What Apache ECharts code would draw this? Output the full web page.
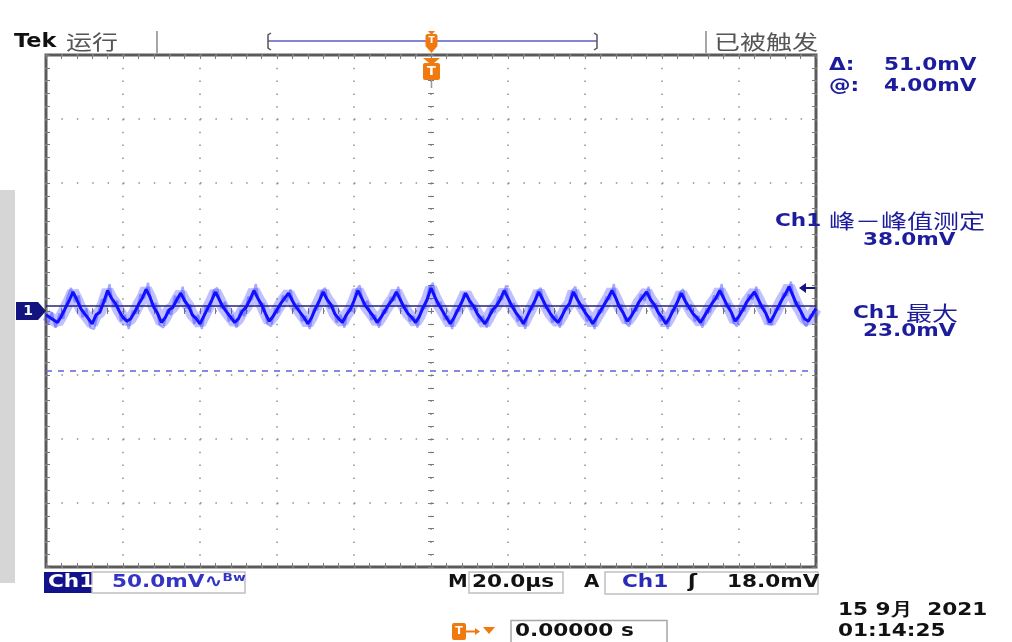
<!DOCTYPE html>
<html><head><meta charset="utf-8">
<script src="https://cdn.jsdelivr.net/npm/echarts@6/dist/echarts.min.js"></script>
<style>html,body{margin:0;padding:0;background:#fff}#c{width:1012px;height:642px}</style>
</head><body><div id="c"></div>
<script>
// ---- data ----
const timeStartUs = -100;     // left edge of screen (trigger at 0)
const timeStepUs = 1;         // spacing of the samples below
const timeMinUs = -100, timeMaxUs = 100, timePerDivUs = 20;
const voltMinMv = -200, voltMaxMv = 200, voltPerDivMv = 50;

// Ch1 ripple trace (mV), one value per µs from -100 µs to +100 µs
const ch1TraceMv = [
 -3, -5, -7, -9, -4, 2, 8, 15, 9, 2,
 -2, -6, -10, -3, -1, 7, 16, 10, 6, 0,
 -5, -8, -6, -1, 5, 10, 17, 11, 3, -2,
 -9, -5, 1, 3, 9, 14, 8, 4, -3, -6,
 -10, -4, 2, 8, 15, 9, 3, -1, -5, -9,
 -6, 0, 3, 9, 16, 10, 5, -2, -8, -4,
 1, 6, 10, 14, 8, 3, -1, -5, -10, -5,
 2, 8, 15, 9, 5, -2, -6, -9, -3, 1,
 8, 16, 10, 4, 0, -4, -9, -5, 0, 5,
 9, 15, 9, 3, -2, -5, -9, -4, 3, 9,
 18, 11, 5, 0, -5, -10, -5, 1, 7, 14,
 8, 4, -2, -6, -10, -5, 1, 4, 9, 16,
 10, 4, -1, -5, -10, -4, 2, 8, 15, 9,
 3, -2, -6, -9, -4, 2, 6, 15, 9, 4,
 -1, -5, -10, -5, 0, 5, 10, 16, 10, 3,
 -2, -8, -4, 1, 7, 11, 15, 9, 5, -1,
 -5, -10, -5, 1, 7, 14, 8, 3, -2, -5,
 -9, -4, 1, 6, 10, 16, 10, 4, -1, -8,
 -4, 1, 7, 11, 15, 9, 3, -2, -9, -4,
 2, 8, 13, 19, 12, 5, 0, -6, -8, -3,
 2
];
// faint persistence / noise excursions (mV), at the half-µs points between samples
const ch1NoiseMv = [
 -10, -1, -13, -2, -6, 10, 18, 7, 12, -5,
 2, -13, -14, -2, 9, 7, 21, 3, 8, -8,
 -3, -14, 0, -2, 13, 10, 22, 4, 6, -11,
 -13, 1, -3, 12, 6, 19, 2, 5, -10, -3,
 -14, 4, -1, 16, 18, 2, 7, -8, -3, -13,
 1, -4, 11, 9, 21, 4, 6, -10, -12, 2,
 -1, 12, 7, 17, 1, 6, -8, -4, -14, 1,
 1, 15, 18, 2, 5, -9, -3, -13, 2, 0,
 16, 20, 3, 8, -7, -3, -13, 1, -1, 11,
 8, 19, 2, 5, -8, -4, -13, 3, 2, 18,
 22, 4, 7, -7, -4, -14, 1, 0, 14, 12,
 1, 5, -9, -4, -13, 2, -1, 11, 9, 20,
 3, 6, -8, -4, -14, 3, 1, 15, 18, 2,
 5, -9, -3, -13, 2, 1, 15, 19, 2, 5,
 -8, -4, -14, 1, -1, 11, 9, 21, 3, 5,
 -9, -12, 2, 0, 13, 8, 19, 2, 6, -8,
 -4, -14, 1, 0, 14, 17, 1, 5, -8, -4,
 -13, 2, -1, 12, 9, 21, 3, 6, -9, -12,
 2, 0, 13, 9, 19, 2, 5, -10, -11, 2,
 1, 14, 12, 23, 5, 7, -7, -12, -3, -4
];
const groundLevelMv = 0;
const triggerLevelMv = 18.0;
const cursorAtMv = 4.00;
const cursorDeltaMv = 51.0;

// ---- readouts (text) ----
const readDelta = '51.0mV', readAt = '4.00mV';
const readPkPkLabel = '峰－峰值测定', readPkPk = '38.0mV';
const readMaxLabel = '最大', readMax = '23.0mV';
const readScale = '50.0mV', readTime = '20.0µs', readTrig = '18.0mV';
const readTrigPos = '0.00000 s', readDate = '15 9月  2021', readClock = '01:14:25';

const tracePts = ch1TraceMv.map((v, i) => [timeStartUs + i * timeStepUs, v]);
const noisePts = ch1NoiseMv.map((v, i) => [timeStartUs + (i + 0.5) * timeStepUs, v]);

const NAVY = '#1c1c9c', ORANGE = '#f07a10', GRID = '#8e8e8e';
const LAT = '"DejaVu Sans"', CJK = '"Noto Sans CJK SC"';

function tx(x, y, text, font, fill, sx, align) {
  return { type: 'text', x: x, y: y, scaleX: sx || 1.2, z: 50,
    style: { text: text, x: 0, y: 0, font: font, fill: fill, textAlign: align || 'left', textVerticalAlign: 'middle' } };
}
function box(x, y, w, h, fill, stroke, r) {
  return { type: 'rect', z: 40, shape: { x: x, y: y, width: w, height: h, r: r || 0 },
    style: { fill: fill || 'none', stroke: stroke || null, lineWidth: 1.5 } };
}
function ln(x1, y1, x2, y2, c, w) {
  return { type: 'line', z: 40, shape: { x1: x1, y1: y1, x2: x2, y2: y2 }, style: { stroke: c, lineWidth: w || 1.5 } };
}
function poly(points, fill) {
  return { type: 'polygon', z: 45, shape: { points: points }, style: { fill: fill } };
}

const tickStyle = { color: '#7a7a7a', width: 1 };
function xAx(pos, inside, onZero, split, len) {
  return { type: 'value', position: pos, min: timeMinUs, max: timeMaxUs, interval: timePerDivUs,
    axisLine: { show: true, onZero: onZero, onZeroAxisIndex: 0, lineStyle: { color: 'rgba(0,0,0,0)' } },
    axisTick: { show: true, inside: inside, length: len || 4, lineStyle: tickStyle },
    minorTick: { show: true, splitNumber: 5, length: len || 4, lineStyle: tickStyle },
    axisLabel: { show: false },
    splitLine: { show: split, lineStyle: { color: GRID, width: 1.5, type: [1.5, 11.3] } },
    minorSplitLine: { show: false } };
}
function yAx(pos, inside, onZero, split, len) {
  return { type: 'value', position: pos, min: voltMinMv, max: voltMaxMv, interval: voltPerDivMv,
    axisLine: { show: true, onZero: onZero, onZeroAxisIndex: 0, lineStyle: { color: 'rgba(0,0,0,0)' } },
    axisTick: { show: true, inside: inside, length: len || 4, lineStyle: tickStyle },
    minorTick: { show: true, splitNumber: 5, length: len || 4, lineStyle: tickStyle },
    axisLabel: { show: false },
    splitLine: { show: split, lineStyle: { color: GRID, width: 1.5, type: [1.5, 13.9] } },
    minorSplitLine: { show: false } };
}

const chart = echarts.init(document.getElementById('c'), null, { renderer: 'canvas' });
chart.setOption({
  animation: false,
  backgroundColor: '#ffffff',
  grid: { left: 46, right: 196, top: 55, bottom: 75, show: true, borderColor: '#5a5a5a', borderWidth: 3, backgroundColor: 'transparent' },
  xAxis: [ xAx('bottom', true, false, true), xAx('top', true, false, false), xAx('bottom', false, true, false, 3), xAx('bottom', true, true, false, 3) ],
  yAxis: [ yAx('left', true, false, true), yAx('right', true, false, false), yAx('left', false, true, false, 3), yAx('left', true, true, false, 3) ],
  series: [
    { type: 'line', name: 'noise', data: noisePts, showSymbol: false, silent: true, z: 3,
      lineStyle: { color: 'rgba(70,80,255,0.5)', width: 2.2 } },
    { type: 'line', name: 'glow', data: tracePts, showSymbol: false, silent: true, z: 4,
      lineStyle: { color: 'rgba(60,60,255,0.32)', width: 12 } },
    { type: 'line', name: 'Ch1', data: tracePts, showSymbol: false, silent: true, z: 5,
      lineStyle: { color: '#1010ff', width: 3 },
      markLine: { silent: true, symbol: ['none', 'none'], label: { show: false }, animation: false,
        data: [
          { yAxis: cursorAtMv, lineStyle: { color: '#25257a', width: 1.6, type: 'solid' } },
          { yAxis: cursorAtMv - cursorDeltaMv, lineStyle: { color: '#6b6bd8', width: 1.6, type: [6, 6] } }
        ] },
      markPoint: { silent: true, animation: false,
        data: [
          { coord: [timeMinUs, groundLevelMv], symbol: 'path://M0,0 L22,0 L30,9 L22,18 L0,18 Z', symbolSize: [30, 18], symbolOffset: [-15, 0],
            itemStyle: { color: '#14147e' }, label: { show: true, formatter: '1', color: '#fff', fontWeight: 'bold', fontSize: 14, fontFamily: 'DejaVu Sans', offset: [-3, 0] } },
          { coord: [timeMaxUs, triggerLevelMv], symbol: 'path://M0,5 L7,0 L7,4 L16,4 L16,6 L7,6 L7,10 Z', symbolSize: [16, 10], symbolOffset: [-9, 0],
            itemStyle: { color: '#14147e' }, label: { show: false } }
        ] } }
  ],
  graphic: { elements: [
    { type: 'rect', z: 1, shape: { x: 0, y: 190, width: 15, height: 393 }, style: { fill: '#d6d6d6' } },
    tx(14, 42, 'Tek', 'bold 20px ' + LAT, '#111', 1.12),
    tx(66, 42, '运行', '20px ' + CJK, '#555', 1.3),
    ln(157, 31, 157, 53, '#8a8a8a', 1.5),
    ln(268, 41, 597, 41, '#8585d8', 2),
    { type: 'polyline', z: 40, shape: { points: [[271, 33], [268, 35], [268, 48], [271, 50]] }, style: { stroke: '#555', lineWidth: 1.5, fill: 'none' } },
    { type: 'polyline', z: 40, shape: { points: [[594, 33], [597, 35], [597, 48], [594, 50]] }, style: { stroke: '#555', lineWidth: 1.5, fill: 'none' } },
    poly([[428, 31], [435, 31], [431.5, 35]], ORANGE),
    { type: 'rect', z: 45, shape: { x: 425.5, y: 34, width: 12, height: 13, r: 2 }, style: { fill: ORANGE } },
    poly([[425.5, 46], [437.5, 46], [431.5, 53]], ORANGE),
    tx(431.5, 40.5, 'T', 'bold 9px ' + LAT, '#fff', 1, 'center'),
    ln(706, 31, 706, 53, '#8a8a8a', 1.5),
    tx(714, 42, '已被触发', '20px ' + CJK, '#555', 1.3),
    poly([[423, 58], [440, 58], [431.5, 65]], ORANGE),
    { type: 'rect', z: 45, shape: { x: 423, y: 63, width: 17, height: 17, r: 2 }, style: { fill: ORANGE } },
    tx(431.5, 72, 'T', 'bold 13px ' + LAT, '#fff', 1, 'center'),
    ln(431.5, 80, 431.5, 88, '#999', 1.5),
    tx(829, 65, 'Δ:', 'bold 18px ' + LAT, NAVY, 1.2),
    tx(884, 65, readDelta, 'bold 18px ' + LAT, NAVY, 1.2),
    tx(829, 86, '@:', 'bold 18px ' + LAT, NAVY, 1.2),
    tx(884, 86, readAt, 'bold 18px ' + LAT, NAVY, 1.2),
    tx(775, 221, 'Ch1', 'bold 18px ' + LAT, NAVY, 1.2),
    tx(829, 221, readPkPkLabel, '20px ' + CJK, NAVY, 1.3),
    tx(863, 240, readPkPk, 'bold 18px ' + LAT, NAVY, 1.2),
    tx(853, 313, 'Ch1', 'bold 18px ' + LAT, NAVY, 1.2),
    tx(906, 313, readMaxLabel, '20px ' + CJK, NAVY, 1.3),
    tx(863, 331, readMax, 'bold 18px ' + LAT, NAVY, 1.2),
    box(44, 572, 48, 21, '#12128a', null),
    tx(48, 582.5, 'Ch1', 'bold 18px ' + LAT, '#ffffff', 1.2),
    box(92, 572, 153, 21, null, '#c0c0c0'),
    tx(112, 582.5, readScale + '∿ᴮʷ', 'bold 18px ' + LAT, '#3434c4', 1.2),
    tx(448, 582.5, 'M', 'bold 18px ' + LAT, '#111', 1.1),
    box(469, 572, 94, 21, null, '#c0c0c0'),
    tx(472, 582.5, readTime, 'bold 18px ' + LAT, '#111', 1.2),
    tx(584, 582.5, 'A', 'bold 18px ' + LAT, '#111', 1.1),
    box(605, 572, 213, 22, null, '#c0c0c0'),
    tx(622, 582.5, 'Ch1', 'bold 18px ' + LAT, '#2a2ab8', 1.2),
    tx(688, 582.5, 'ʃ', 'bold 18px ' + LAT, '#111', 1.2),
    tx(727, 582.5, readTrig, 'bold 18px ' + LAT, '#111', 1.2),
    { type: 'rect', z: 45, shape: { x: 452, y: 623, width: 14, height: 17, r: 2 }, style: { fill: ORANGE } },
    tx(459, 631.5, 'T', 'bold 11px ' + LAT, '#fff', 1, 'center'),
    ln(466, 631.5, 478, 631.5, ORANGE, 2),
    poly([[475, 628], [480, 631.5], [475, 635]], ORANGE),
    poly([[483, 627], [495, 627], [489, 634]], ORANGE),
    box(511, 620.5, 156, 24, null, '#a8a8a8'),
    tx(515, 631.5, readTrigPos, 'bold 18px ' + LAT, '#111', 1.2),
    tx(838, 610, readDate, 'bold 18px ' + LAT, '#111', 1.2),
    tx(838, 631, readClock, 'bold 18px ' + LAT, '#111', 1.2)
  ] }
});
</script></body></html>
